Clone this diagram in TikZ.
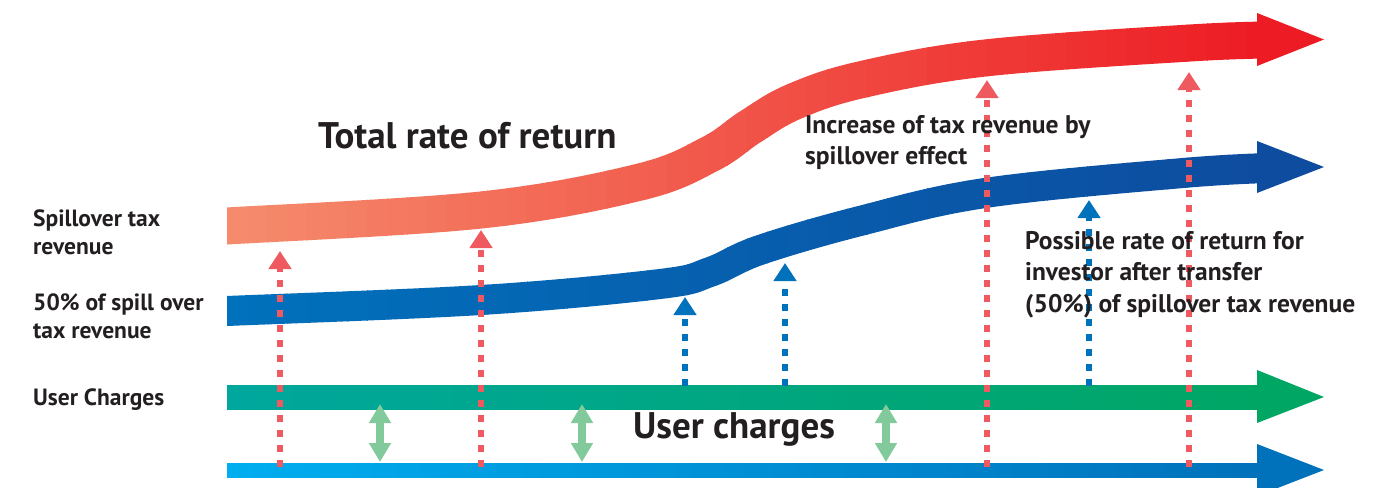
\documentclass[tikz,border=0pt]{standalone}
\usepackage{fontspec}
\setmainfont{PT Sans}
\usetikzlibrary{arrows.meta}
\definecolor{RetRedL}{HTML}{F58B6C}
\definecolor{RetRedR}{HTML}{ED1C24}
\definecolor{HalfBlueL}{HTML}{0071BC}
\definecolor{HalfBlueR}{HTML}{0E4C9F}
\definecolor{ChargeL}{HTML}{00A79D}
\definecolor{ChargeR}{HTML}{00A664}
\definecolor{BaseL}{HTML}{00AEEF}
\definecolor{BaseR}{HTML}{0071BB}
\definecolor{SpillDot}{HTML}{EF5A61}
\definecolor{HalfDot}{HTML}{0072BC}
\definecolor{GapGreen}{HTML}{82CA9C}
\definecolor{InkDark}{HTML}{231F20}

% centre lines of the two curved bands
\newcommand\totalcurve{plot[smooth,tension=0.6] coordinates {(205,227) (227,226) (481,210) (640,182) (710,154) (750,127) (793,102) (860,80) (985,58) (1190,43) (1270,40)}}
\newcommand\halfcurve{plot[smooth,tension=0.6] coordinates {(205,312) (227,311) (481,300) (660,284) (710,272) (760,250) (860,221) (985,193) (1183,173) (1270,168)}}

\begin{document}
\begin{tikzpicture}[x=1pt,y=-1pt,>=Latex,
  sidelabel/.style={font=\bfseries\fontsize{23.5}{28}\selectfont,text=InkDark,inner sep=0pt,anchor=base west,align=left},
  notelabel/.style={font=\bfseries\fontsize{25.5}{31.5}\selectfont,text=InkDark,inner sep=0pt,anchor=base west,align=left},
  headline/.style={font=\bfseries\fontsize{37}{44}\selectfont,text=InkDark,inner sep=0pt,anchor=base west},
  spilldot/.style={SpillDot,line width=6.5pt,dash pattern=on 7pt off 8pt,-{Triangle[width=22pt,length=18pt]}},
  halfdot/.style={HalfDot,line width=6.5pt,dash pattern=on 7pt off 8pt,-{Triangle[width=22pt,length=18pt]}},
  gaparrow/.style={GapGreen,line width=7.5pt,{Triangle[width=21pt,length=19pt]}-{Triangle[width=21pt,length=19pt]}}]
  \useasboundingbox (0,0) rectangle (1386,487);

  % curved bands, coloured strip by strip
  \begin{scope}
    \clip (227,0) rectangle (1258,360);
    \foreach \i in {0,...,51} {
      \pgfmathtruncatemacro\pct{round(100*\i/51)}
      \begin{scope}
        \clip (227+20*\i,0) rectangle (248+20*\i,360);
        \draw[line width=37pt,RetRedR!\pct!RetRedL] \totalcurve;
        \draw[line width=30pt,HalfBlueR!\pct!HalfBlueL] \halfcurve;
      \end{scope}
    }
  \end{scope}
  \fill[RetRedR] (1257,13) -- (1324,39.5) -- (1257,66) -- cycle;
  \fill[HalfBlueR] (1257,141) -- (1324,167) -- (1257,193) -- cycle;

  % straight bands
  \shade[left color=ChargeL,right color=ChargeR] (227,385) rectangle (1258,409);
  \fill[ChargeR] (1257,370) -- (1324,397) -- (1257,423) -- cycle;
  \shade[left color=BaseL,right color=BaseR] (227,463) rectangle (1258,477);
  \fill[BaseR] (1257,444) -- (1324,470) -- (1257,496) -- cycle;

  % gaps between the two lower bands
  \foreach \x [count=\i] in {380,582,886} {
    \coordinate (gt\i) at (\x,404);
    \coordinate (gb\i) at (\x,462);
    \draw[gaparrow] (gb\i) -- (gt\i);
  }

  % spillover lifts
  \foreach \x/\y [count=\i] in {280/251,481/230,987/80,1189/72} {
    \coordinate (rs\i) at (\x,467);
    \coordinate (rt\i) at (\x,\y);
    \draw[spilldot] (rs\i) -- (rt\i);
  }
  \foreach \x/\y [count=\i] in {685/297,785/263,1089/200} {
    \coordinate (bs\i) at (\x,386);
    \coordinate (bt\i) at (\x,\y);
    \draw[halfdot] (bs\i) -- (bt\i);
  }

  % multi-line labels sit on the baseline of their last line
  \node[headline] (total) at (318,148) {Total rate of return};
  \node[headline] (charges) at (633,438) {User charges};
  \node[sidelabel] (spill) at (33,254) {Spillover tax\\revenue};
  \node[sidelabel] (half) at (33,338) {50\% of spill over\\tax revenue};
  \node[sidelabel] (user) at (33,405) {User Charges};
  \node[notelabel] (increase) at (805,164.5) {Increase of tax revenue by\\spillover effect};
  \node[notelabel] (possible) at (1025,312) {Possible rate of return for\\investor after transfer\\(50\%) of spillover tax revenue};
\end{tikzpicture}
\end{document}
